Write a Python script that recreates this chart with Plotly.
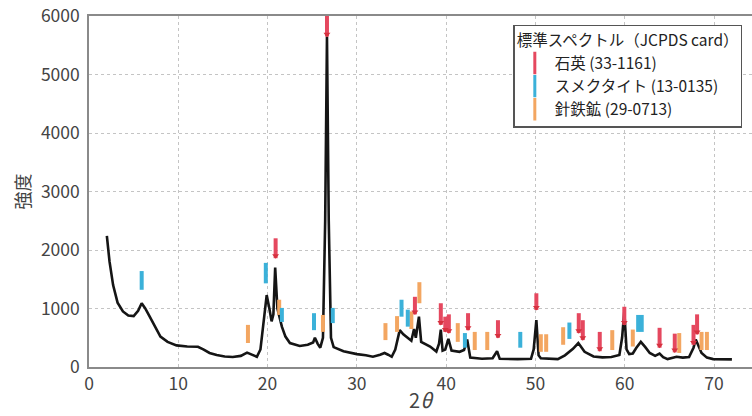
import plotly.graph_objects as go

# --- XRD spectrum (2θ, intensity) ---
two_theta = [2.0, 2.3, 2.7, 3.2, 3.8, 4.4, 5.0, 5.5, 5.9, 6.3, 6.8, 7.4, 8.0, 8.8, 9.8,
             11.0, 12.2, 12.8, 13.5, 14.3, 15.2, 16.1, 17.0, 17.7, 18.2, 18.8, 19.2, 19.5,
             19.9, 20.2, 20.45, 20.65, 20.85, 21.1, 21.6, 22.0, 22.5, 23.6, 24.5, 25.1,
             25.3, 25.6, 25.9, 26.2, 26.45, 26.65, 26.85, 27.1, 27.4, 28.5, 30.0, 31.0,
             31.8, 32.6, 33.1, 33.5, 33.9, 34.3, 34.6, 34.8, 35.2, 35.6, 36.1, 36.4, 36.6,
             36.95, 37.2, 38.2, 38.9, 39.2, 39.4, 39.6, 39.9, 40.25, 40.6, 41.5, 42.0,
             42.35, 42.7, 44.0, 45.2, 45.7, 46.0, 48.0, 49.5, 49.8, 50.1, 50.35, 50.6,
             52.5, 53.3, 54.2, 54.8, 55.5, 56.5, 57.5, 58.5, 59.4, 59.7, 59.95, 60.2, 60.5,
             60.9, 61.3, 61.8, 62.3, 62.8, 63.4, 63.9, 64.3, 64.8, 65.8, 66.5, 67.2, 67.7,
             67.95, 68.2, 68.6, 69.2, 69.9, 72.0]
intensity = [2240, 1800, 1400, 1100, 950, 880, 870, 960, 1090, 1000, 860, 680, 520, 430, 370,
             350, 345, 300, 240, 205, 180, 170, 190, 245, 210, 175, 300, 700,
             1230, 1000, 780, 900, 1700, 1000, 690, 520, 410, 360, 380, 420,
             500, 400, 330, 500, 2500, 5650, 2500, 500, 340, 270, 220, 200,
             175, 210, 240, 210, 175, 300, 500, 630, 560, 510, 450, 650, 500,
             860, 430, 350, 265, 400, 640, 280, 300, 480, 280, 260, 290,
             470, 160, 140, 150, 270, 140, 135, 140, 300, 800, 200, 150,
             135, 200, 310, 410, 260, 180, 165, 170, 205, 500, 950, 300, 220,
             230, 330, 430, 340, 240, 190, 230, 170, 135, 175, 160, 170, 330,
             470, 380, 240, 160, 135, 130]

# --- Standard spectrum markers: position, lower and upper intensity of each bar ---
quartz_x = [20.9, 26.65, 36.5, 39.4, 39.9, 40.3, 42.45, 45.8, 50.1, 54.85, 55.3, 57.2,
            59.95, 63.9, 65.6, 67.7, 68.1]
quartz_lo = [1860, 5650, 900, 720, 600, 580, 630, 500, 975, 580, 460, 270,
             720, 330, 250, 380, 560]
quartz_hi = [2200, 6000, 1200, 1090, 860, 900, 920, 800, 1260, 920, 800, 600,
             1030, 670, 570, 720, 900]

smectite_x = [5.9, 19.8, 21.6, 25.2, 27.3, 35.0, 35.7, 42.1, 48.3, 53.8, 61.5, 61.9]
smectite_lo = [1320, 1430, 770, 630, 750, 860, 690, 330, 330, 480, 600, 600]
smectite_hi = [1640, 1780, 1010, 920, 1010, 1150, 980, 580, 600, 760, 890, 890]

goethite_x = [17.8, 21.3, 26.2, 33.2, 34.5, 36.1, 37.0, 41.3, 43.2, 44.6, 50.6, 51.2,
              53.1, 58.6, 60.9, 66.1, 68.6, 69.2]
goethite_lo = [410, 890, 600, 460, 600, 650, 1090, 430, 290, 290, 260, 260,
               380, 290, 350, 240, 290, 290]
goethite_hi = [720, 1150, 890, 750, 870, 950, 1450, 750, 600, 600, 560, 560,
               680, 630, 640, 580, 600, 600]

x_ticks = [0, 10, 20, 30, 40, 50, 60, 70]
y_ticks = [0, 1000, 2000, 3000, 4000, 5000, 6000]

legend_title = "標準スペクトル（JCPDS card）"
names = ["石英 (33-1161)", "スメクタイト (13-0135)", "針鉄鉱 (29-0713)"]

RED = "#e5485f"
RED_HEAD = "#d6313f"
CYAN = "#3bb1d9"
ORANGE = "#f3a661"
FONT = "Noto Sans CJK JP"


def bars(xs, lo, hi):
    bx, by = [], []
    for x, a, b in zip(xs, lo, hi):
        bx += [x, x, None]
        by += [a, b, None]
    return bx, by


fig = go.Figure()
fig.add_trace(go.Scatter(x=two_theta, y=intensity, mode="lines",
                         line=dict(color="#151515", width=2.6),
                         showlegend=False, hoverinfo="skip"))

for xs, lo, hi, col in [(goethite_x, goethite_lo, goethite_hi, ORANGE),
                        (smectite_x, smectite_lo, smectite_hi, CYAN),
                        (quartz_x, quartz_lo, quartz_hi, RED)]:
    bx, by = bars(xs, lo, hi)
    fig.add_trace(go.Scatter(x=bx, y=by, mode="lines", line=dict(color=col, width=4),
                             showlegend=False, hoverinfo="skip"))

fig.add_trace(go.Scatter(x=quartz_x, y=[v + 40 for v in quartz_lo], mode="markers",
                         marker=dict(symbol="triangle-down", size=6, color=RED_HEAD),
                         showlegend=False, hoverinfo="skip"))

for name, col in zip(names, [RED, CYAN, ORANGE]):
    fig.add_trace(go.Scatter(x=[None], y=[None], mode="markers", name=name,
                             marker=dict(symbol="line-ns", size=18,
                                         line=dict(width=3, color=col))))

fig.update_layout(
    width=752, height=416,
    margin=dict(l=89, r=0, t=16, b=49),
    paper_bgcolor="white", plot_bgcolor="white",
    font=dict(family=FONT, color="#333333", size=15),
    legend=dict(title=dict(text=legend_title, font=dict(size=15.5, color="#222")),
                x=0.64, y=0.975, xanchor="left", yanchor="top",
                bgcolor="white", bordercolor="#555555", borderwidth=1.5,
                font=dict(size=15.5, color="#222"), itemwidth=30,
                tracegroupgap=0),
    xaxis=dict(range=[0, 74.25], tickvals=x_ticks, showline=True, linecolor="#8a8a8a",
               linewidth=1.5, mirror=True, showgrid=True, gridcolor="#c4c4c4",
               griddash="dot", gridwidth=1, zeroline=False, ticks="",
               tickfont=dict(size=17.5, color="#444"), ticklabelstandoff=0,
               title=dict(text="2<i>θ</i>", font=dict(size=20, color="#444"), standoff=0)),
    yaxis=dict(range=[0, 6000], tickvals=y_ticks, showline=True, linecolor="#8a8a8a",
               linewidth=1.5, showgrid=True, gridcolor="#c4c4c4", griddash="dot",
               gridwidth=1, zeroline=False, ticks="",
               tickfont=dict(size=17.5, color="#444"), ticklabelstandoff=4,
               title=dict(text="強度", font=dict(size=18, color="#444"), standoff=6)),
)

fig.write_html("out.html", config={"displayModeBar": False},
               post_script="document.body.style.margin='0';")
